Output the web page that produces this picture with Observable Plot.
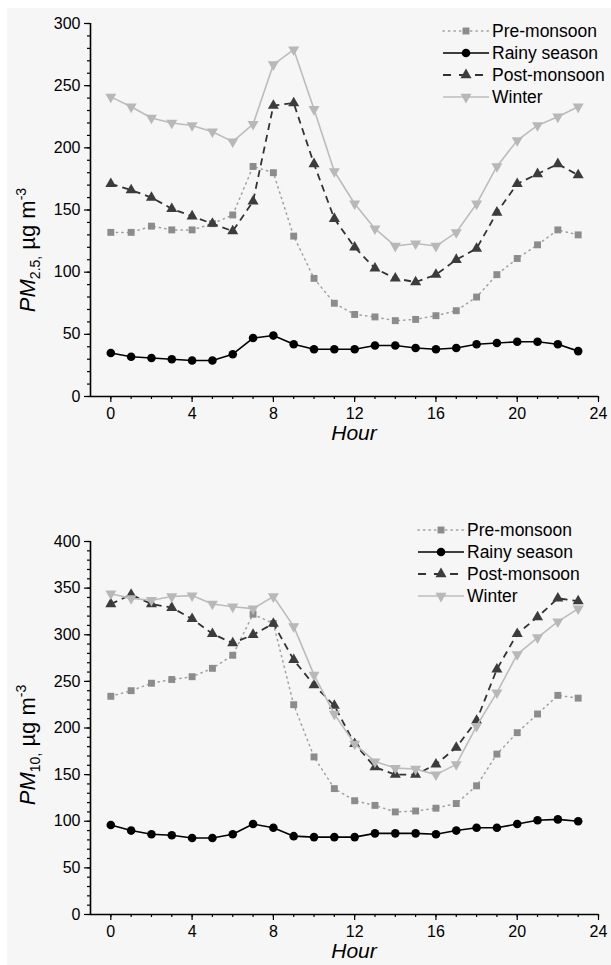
<!DOCTYPE html>
<html>
<head>
<meta charset="utf-8">
<script src="https://cdn.jsdelivr.net/npm/d3@7"></script>
<script src="https://cdn.jsdelivr.net/npm/@observablehq/plot@0.6"></script>
<style>
  body { margin: 0; background: #ffffff; font-family: "Liberation Sans", Arial, sans-serif; }
  #page { position: relative; width: 611px; height: 965px; overflow: hidden; }
  #bg { position: absolute; left: 7px; top: 8px; right: 0; bottom: 0; background: #f6f6f6; }
  #charts { position: absolute; left: 0; top: 0; }
  #charts svg { display: block; }
</style>
</head>
<body>
<div id="page"><div id="bg"></div><div id="charts"></div></div>
<script>
// Hour of day
const hours = [0, 1, 2, 3, 4, 5, 6, 7, 8, 9, 10, 11, 12, 13, 14, 15, 16, 17, 18, 19, 20, 21, 22, 23];
const seasons = ["Pre-monsoon", "Rainy season", "Post-monsoon", "Winter"];

// PM2.5 hourly means (µg m-3)
const pm25Pre    = [132, 132, 137, 134, 134, 139, 146, 185, 180, 129, 95, 75, 66, 64, 61, 62, 65, 69, 80, 98, 111, 122, 134, 130];
const pm25Rainy  = [35, 32, 31, 30, 29, 29, 34, 47, 49, 42, 38, 38, 38, 41, 41, 39, 38, 39, 42, 43, 44, 44, 42, 36.5];
const pm25Post   = [171, 166, 160, 151, 145, 139, 133, 157, 234, 236, 187, 143, 120, 103, 95, 92, 98, 110, 119, 148, 171, 179, 187, 178];
const pm25Winter = [241, 233, 224, 220, 218, 213, 205, 219, 267, 279, 231, 181, 155, 135, 121, 123, 121, 132, 155, 185, 206, 218, 225, 233];

// PM10 hourly means (µg m-3)
const pm10Pre    = [234, 240, 248, 252, 255, 264, 278, 322, 312, 225, 169, 135, 122, 117, 110, 111, 114, 119, 138, 172, 195, 215, 235, 232];
const pm10Rainy  = [96, 90, 86, 85, 82, 82, 86, 97, 93, 84, 83, 83, 83, 87, 87, 87, 86, 90, 93, 93, 97, 101, 102, 100];
const pm10Post   = [333, 343, 333, 329, 317, 301, 291, 300, 312, 273, 246, 224, 183, 158, 150, 150, 161, 179, 208, 263, 301, 319, 339, 336];
const pm10Winter = [344, 339, 337, 341, 342, 333, 330, 328, 341, 309, 257, 215, 183, 164, 157, 156, 150, 161, 202, 238, 279, 297, 314, 328];

// Axis ticks
const xMajor = [0, 4, 8, 12, 16, 20, 24];
const pm25Major = [0, 50, 100, 150, 200, 250, 300];
const pm10Major = [0, 50, 100, 150, 200, 250, 300, 350, 400];

// Downward-pointing triangle symbol
const triangleDown = {
  draw(context, size) {
    const s3 = Math.sqrt(3);
    const y = -Math.sqrt(size / (s3 * 3));
    context.moveTo(0, -y * 2);
    context.lineTo(-s3 * y, y);
    context.lineTo(s3 * y, y);
    context.closePath();
  }
};

const style = {
  "Pre-monsoon":  {line: "#a0a0a0", dash: "1.3,4.2", width: 1.5, symbol: "square",   fill: "#8c8c8c", r: 3.9},
  "Rainy season": {line: "#000000", dash: null,      width: 1.6, symbol: "circle",   fill: "#000000", r: 4.3},
  "Post-monsoon": {line: "#333333", dash: "7,5",     width: 1.8, symbol: "triangle", fill: "#3c3c3c", r: 4.1},
  "Winter":       {line: "#bcbcbc", dash: null,      width: 1.6, symbol: triangleDown, fill: "#b8b8b8", r: 4.1}
};

const FONT = '"Liberation Sans", Arial, sans-serif';

function chart({series, yMax, yMajor, height, marginTop, marginBottom, legendX, legendY, labelY, labelText}) {
  const rows = seasons.flatMap((s, i) => hours.map((h, j) => ({season: s, hour: h, value: series[i][j]})));
  const marks = [
    Plot.axisY({ticks: d3.range(0, yMax + 1, 10), tickSize: 3, tickFormat: () => "", strokeWidth: 1.2, label: null}),
    Plot.axisY({ticks: yMajor, tickSize: 6, tickPadding: 4, strokeWidth: 1.2, label: null}),
    Plot.axisX({ticks: d3.range(0, 25, 1), tickSize: 3, tickFormat: () => "", strokeWidth: 1.2, label: null}),
    Plot.axisX({ticks: xMajor, tickSize: 6, tickPadding: 5, strokeWidth: 1.2, label: null}),
    Plot.ruleX([-1], {stroke: "#000", strokeWidth: 1.6}),
    Plot.ruleY([0], {stroke: "#000", strokeWidth: 1.6})
  ];
  for (const s of seasons) {
    const st = style[s];
    const d = rows.filter(r => r.season === s);
    marks.push(Plot.line(d, {x: "hour", y: "value", stroke: st.line, strokeWidth: st.width, strokeDasharray: st.dash, strokeLinecap: s === "Pre-monsoon" ? "round" : "butt"}));
    marks.push(Plot.dot(d, {x: "hour", y: "value", symbol: st.symbol, r: st.r, fill: st.fill, stroke: "none"}));
  }
  const svg = Plot.plot({
    width: 611,
    height,
    marginLeft: 90,
    marginRight: 13,
    marginTop,
    marginBottom,
    style: {background: "transparent", fontFamily: FONT, fontSize: "16px", color: "#000", overflow: "visible"},
    x: {domain: [-1, 24]},
    y: {domain: [0, yMax]},
    marks
  });

  const sel = d3.select(svg);
  const h0 = height - marginBottom;

  // x-axis title
  sel.append("text")
    .attr("x", 354).attr("y", h0 + 44)
    .attr("text-anchor", "middle")
    .style("font-family", FONT).style("font-size", "21px").style("font-style", "italic")
    .text("Hour");

  // y-axis title with sub- and superscripts
  const t = sel.append("text")
    .attr("transform", `translate(35,${labelY}) rotate(-90)`)
    .attr("text-anchor", "middle")
    .style("font-family", FONT).style("font-size", "22px");
  t.append("tspan").style("font-style", "italic").text("PM");
  t.append("tspan").attr("dy", 5).style("font-size", "14px").text(labelText + ",");
  t.append("tspan").attr("dy", -5).text(" µg m");
  t.append("tspan").attr("dy", -9).style("font-size", "14px").text("-3");

  // legend
  const lg = sel.append("g").attr("transform", `translate(${legendX},${legendY})`).attr("text-anchor", "start");
  seasons.forEach((s, i) => {
    const st = style[s];
    const row = lg.append("g").attr("transform", `translate(0,${i * 22})`);
    row.append("line").attr("x1", 0).attr("x2", 46).attr("y1", 0).attr("y2", 0)
      .attr("stroke", st.line).attr("stroke-width", st.width)
      .attr("stroke-dasharray", s === "Post-monsoon" ? "8,8" : st.dash)
      .attr("stroke-linecap", s === "Pre-monsoon" ? "round" : "butt");
    const sym = typeof st.symbol === "string"
      ? d3.symbol({square: d3.symbolSquare, circle: d3.symbolCircle, triangle: d3.symbolTriangle}[st.symbol], Math.PI * st.r * st.r)
      : d3.symbol(st.symbol, Math.PI * st.r * st.r);
    row.append("path").attr("d", sym()).attr("transform", "translate(23,0)").attr("fill", st.fill);
    row.append("text").attr("x", 49).attr("y", 0).attr("dy", "0.35em").attr("text-anchor", "start")
      .style("font-family", FONT).style("font-size", "17.5px").text(s);
  });
  return svg;
}

const charts = document.getElementById("charts");
charts.appendChild(chart({
  series: [pm25Pre, pm25Rainy, pm25Post, pm25Winter],
  yMax: 300, yMajor: pm25Major, height: 455, marginTop: 23, marginBottom: 59,
  legendX: 443, legendY: 31, labelY: 250, labelText: "2.5"
}));
charts.appendChild(chart({
  series: [pm10Pre, pm10Rainy, pm10Post, pm10Winter],
  yMax: 400, yMajor: pm10Major, height: 510, marginTop: 86, marginBottom: 51,
  legendX: 418, legendY: 75, labelY: 290, labelText: "10"
}));
</script>
</body>
</html>
